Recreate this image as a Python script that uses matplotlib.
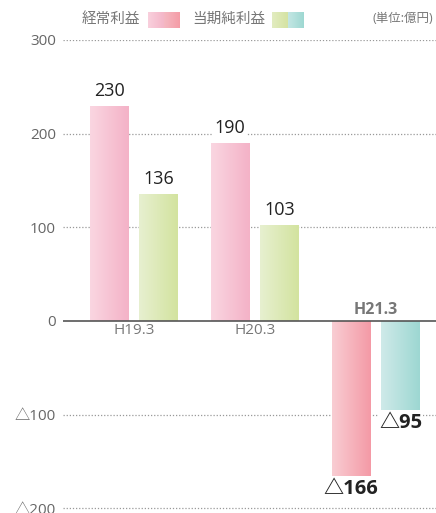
import numpy as np
from matplotlib import pyplot as plt
from matplotlib.colors import LinearSegmentedColormap

# data
periods = ['H19.3', 'H20.3', 'H21.3']
keijo = [230, 190, -166]      # 経常利益
junrieki = [136, 103, -95]    # 当期純利益
yticks = [300, 200, 100, 0, -100, -200]
ytick_labels = ['300', '200', '100', '0', '△100', '△200']

jp = ['Open Sans', 'Noto Sans CJK JP', 'DejaVu Sans']
plt.rcParams['font.family'] = jp

fig = plt.figure(figsize=(4.36, 5.13), dpi=100)
ax = fig.add_axes([63 / 436, 0, 1 - 63 / 436, 1 - 40 / 513])

x = np.arange(len(periods))
w = 0.32
off = 0.205

# gradient colours (left light -> right darker)
pink_pos = ('#fad6e1', '#f4b2c7')
pink_neg = ('#f9cdd3', '#f49aa6')
green = ('#e7f0d0', '#d3e39f')
teal = ('#cfeae9', '#9dd7d2')


def grad_bar(bar, cols):
    cmap = LinearSegmentedColormap.from_list('g', cols)
    gx, gy = bar.get_x(), bar.get_y()
    gw, gh = bar.get_width(), bar.get_height()
    img = np.linspace(0, 1, 64).reshape(1, -1)
    im = ax.imshow(img, cmap=cmap, extent=[gx, gx + gw, gy, gy + gh],
                   aspect='auto', zorder=2, interpolation='bicubic')
    im.set_clip_path(bar)


bars1 = ax.bar(x - off, keijo, w, color='none', edgecolor='none', zorder=2)
bars2 = ax.bar(x + off, junrieki, w, color='none', edgecolor='none', zorder=2)
for i, b in enumerate(bars1):
    grad_bar(b, pink_pos if keijo[i] > 0 else pink_neg)
for i, b in enumerate(bars2):
    grad_bar(b, green if junrieki[i] > 0 else teal)

# value labels
for xs, vals in ((x - off, keijo), (x + off, junrieki)):
    for xi, v in zip(xs, vals):
        if v > 0:
            ax.text(xi, v + 6, str(v), ha='center', va='bottom', fontsize=13,
                    color='#222222', zorder=4,
                    bbox=dict(facecolor='white', edgecolor='none', pad=1))
        else:
            ax.text(xi, v - 3, '△' + str(-v), ha='center', va='top', fontsize=14.5,
                    fontweight='bold', color='#222222', zorder=4,
                    bbox=dict(facecolor='white', edgecolor='none', pad=0.5))

# period labels
for xi, p, v in zip(x, periods, keijo):
    if v > 0:
        ax.text(xi, -2, p, ha='center', va='top', fontsize=11, color='#777777')
    else:
        ax.text(xi, 3, p, ha='center', va='bottom', fontsize=11.5,
                fontweight='bold', color='#777777')

# grid + zero line
for t in yticks:
    if t == 0:
        ax.axhline(0, color='#555555', lw=1.2, zorder=3)
    else:
        ax.axhline(t, color='#999999', lw=0.9, ls=(0, (1, 1.5)), zorder=1)

ax.set_xlim(-0.587, 2.496)
ax.set_ylim(-205, 300)
ax.set_yticks(yticks)
ax.set_yticklabels(ytick_labels, fontsize=11, color='#666666')
ax.tick_params(axis='y', length=0, pad=5)
ax.set_xticks([])
for s in ax.spines.values():
    s.set_visible(False)

# legend
lc1 = [('#f9d0dd', '#f4b6c8'), ('#f5b8c2', '#f49ca6')]
lc2 = [('#e2ecc0', '#d5e3a2'), ('#c3e6e3', '#9ed8d2')]
fig.text(82 / 436, 1 - 19 / 513, '経常利益', fontsize=10.5, color='#777777', va='center')
fig.text(192 / 436, 1 - 19 / 513, '当期純利益', fontsize=10.5, color='#777777', va='center')
fig.text(433 / 436, 1 - 19 / 513, '(単位:億円)', fontsize=9, color='#777777',
         va='center', ha='right')
for x0, cols in ((148, lc1), (272, lc2)):
    for k, c in enumerate(cols):
        lax = fig.add_axes([(x0 + k * 15.5) / 436, 1 - 28 / 513, 15.5 / 436, 16 / 513])
        cmap = LinearSegmentedColormap.from_list('l', c)
        lax.imshow(np.linspace(0, 1, 32).reshape(1, -1), cmap=cmap, aspect='auto')
        lax.axis('off')

fig.savefig('out.png', dpi=100)
